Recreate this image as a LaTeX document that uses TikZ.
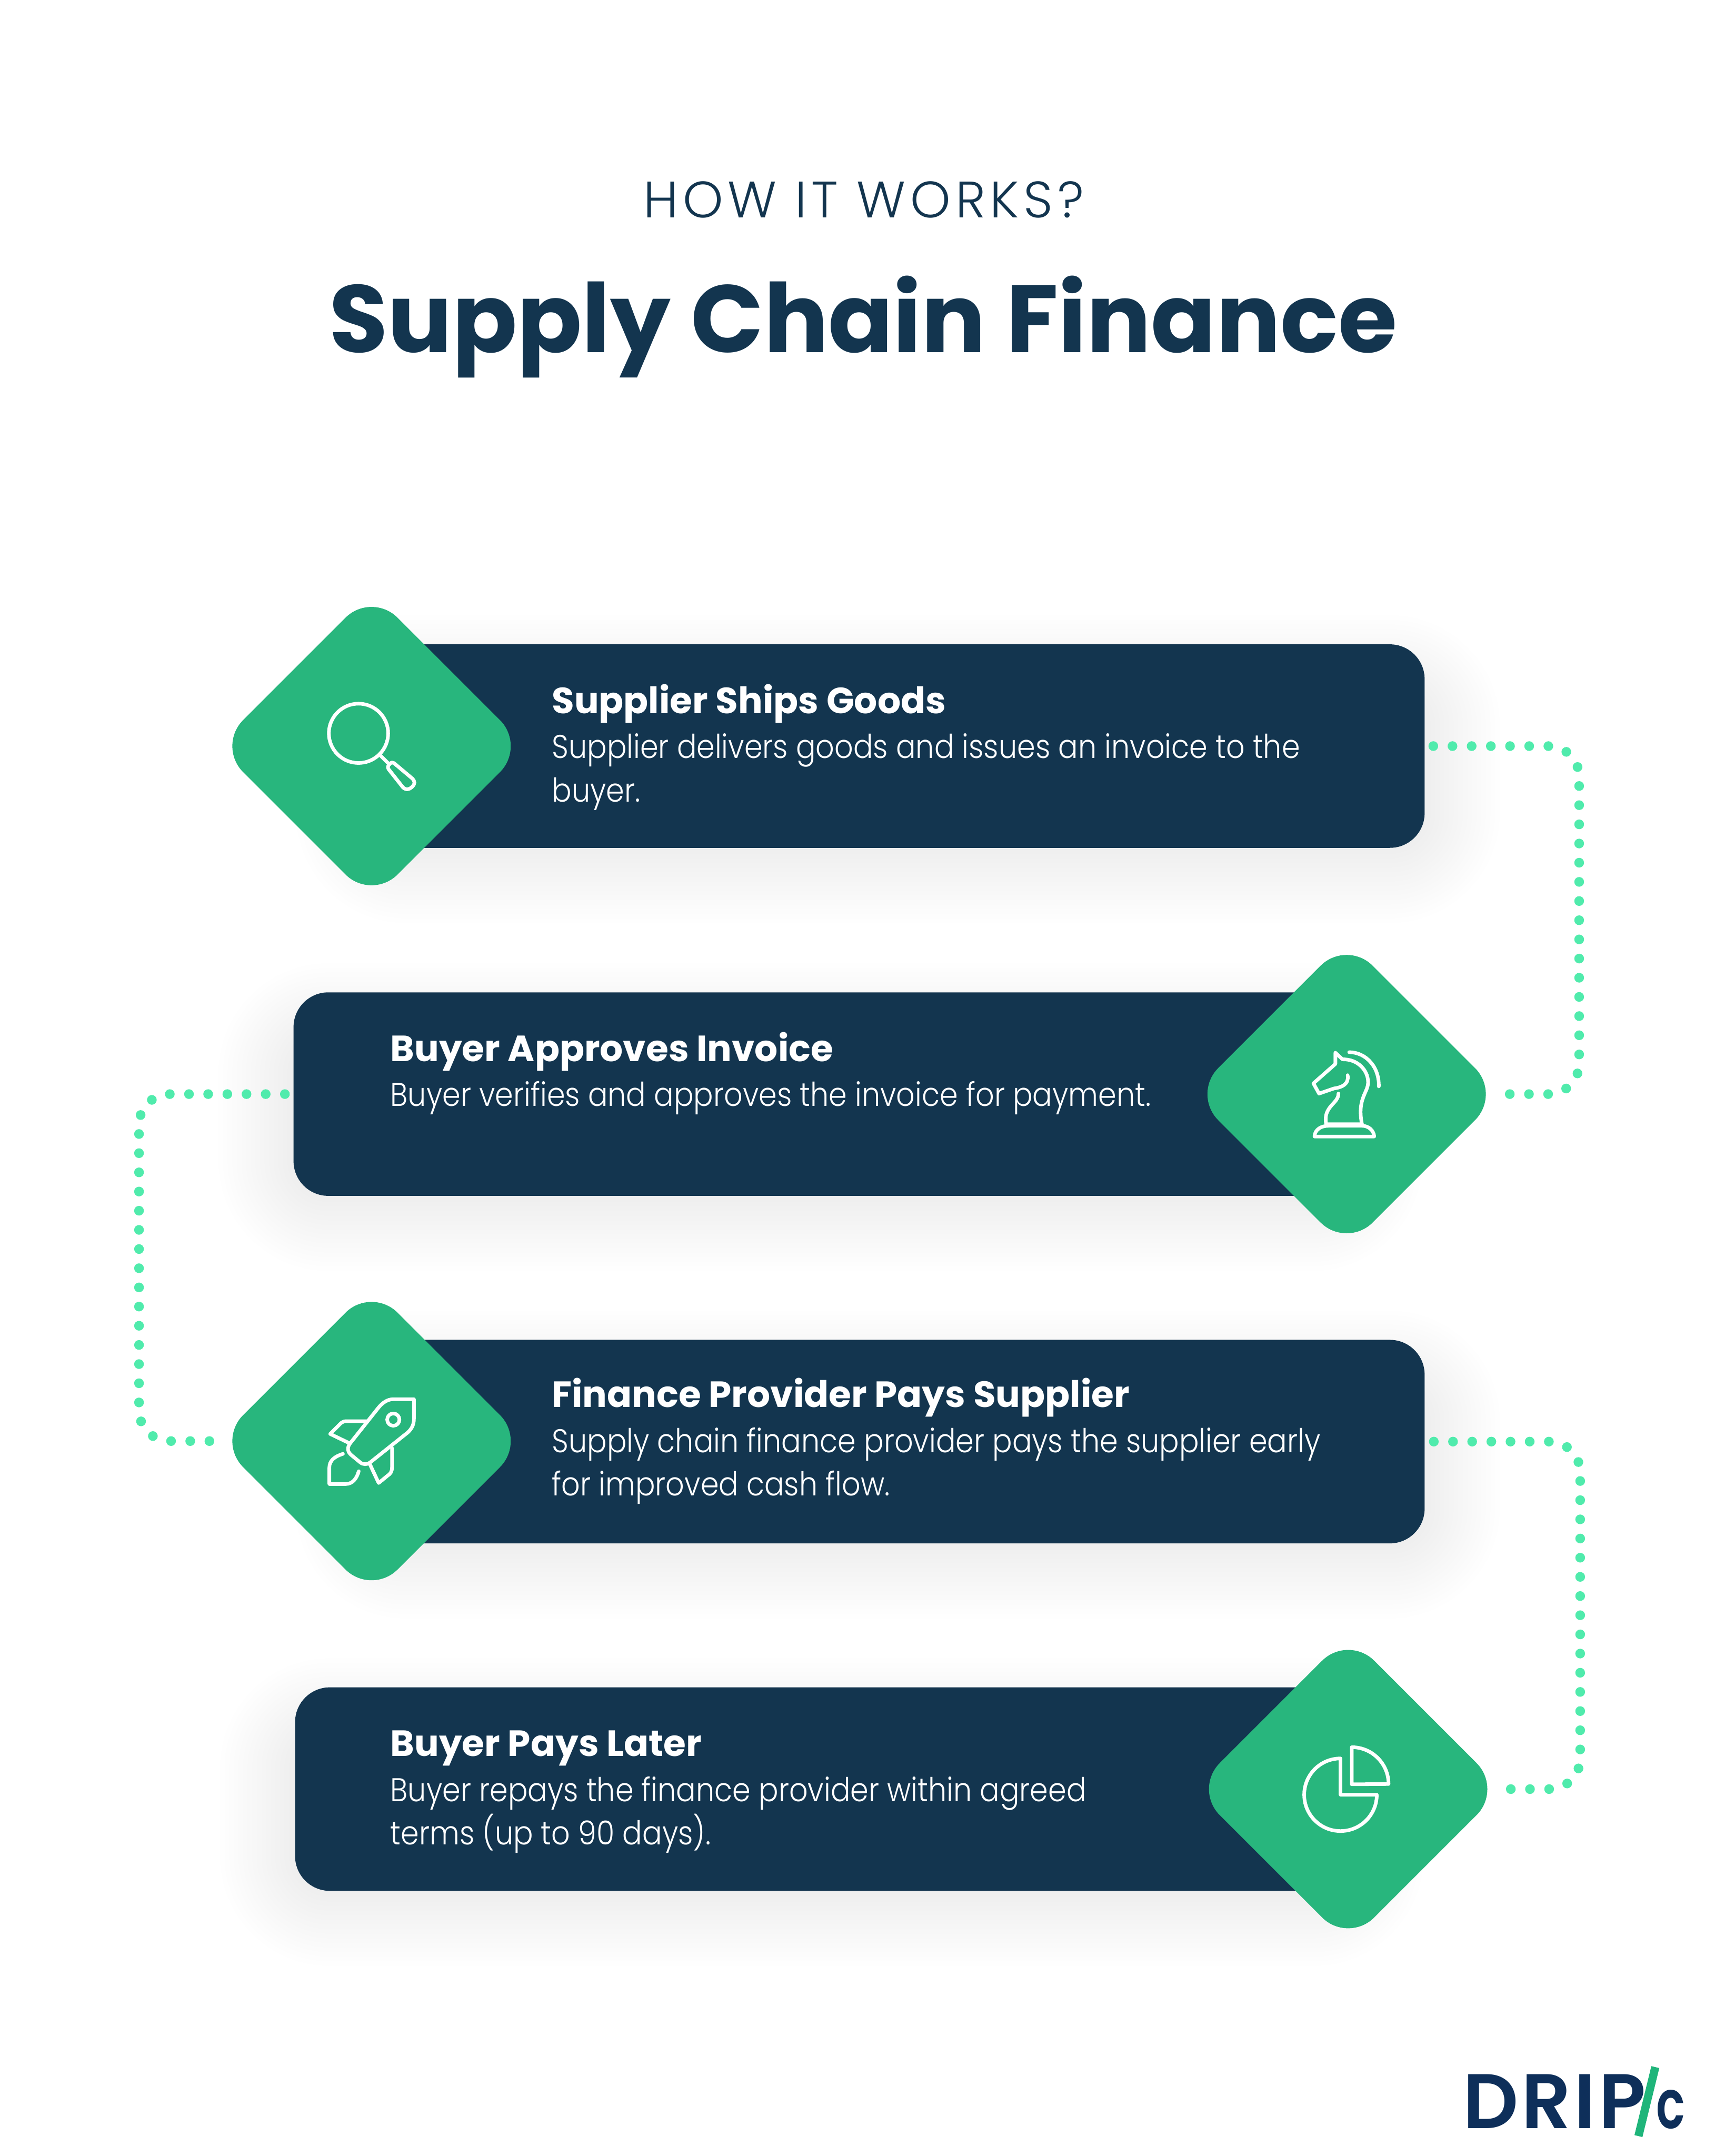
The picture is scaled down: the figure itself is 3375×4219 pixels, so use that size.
\documentclass[tikz,border=0pt]{standalone}
\usepackage{fontspec}
\setmainfont{Poppins}
\newfontfamily\bodyfont{Poppins Light}
\newfontfamily\copyfont[FakeStretch=0.89]{Poppins Light}
\newfontfamily\logofont[LetterSpace=4]{Poppins SemiBold}
\usetikzlibrary{positioning,shapes.geometric,backgrounds}
\definecolor{navy}{HTML}{13354F}
\definecolor{leaf}{HTML}{28B67D}
\definecolor{mint}{HTML}{50EBAC}
\definecolor{logonavy}{HTML}{0E2F5A}
\definecolor{logoleaf}{HTML}{1FB57A}
\newcommand{\headtext}[1]{{\fontsize{20.3}{24}\selectfont\bfseries #1}}
\tikzset{x=0.01cm,y=-0.01cm,
	card/.style={draw=none, fill=navy, rectangle, rounded corners=0.68cm, minimum width=20.6cm, minimum height=3.98cm, inner sep=0pt, outer sep=0pt},
	gem/.style={draw=none, fill=leaf, diamond, aspect=1, rounded corners=0.72cm, minimum width=6.04cm, minimum height=6.04cm, inner sep=0pt, outer sep=0pt},
	dotline/.style={draw=mint, line width=0.19cm, line cap=round, dash pattern=on 0pt off 0.375cm, rounded corners=0.6cm},
	head/.style={white, anchor=base west, inner sep=0pt, outer sep=0pt},
	copy/.style={white, anchor=base west, inner sep=0pt, outer sep=0pt, align=left, font=\copyfont\fontsize{18.3}{24.2}\selectfont},
	glyph/.style={draw=white, line width=0.07cm, line join=round, line cap=round},
	haze/.style={fill=black, opacity=0.004}}
\begin{document}
\begin{tikzpicture}
	\useasboundingbox (0,0) rectangle (3375,4219);
	\node [text=navy, anchor=base] (kicker) at (1690,426) {\bodyfont\fontsize{28.5}{30}\selectfont\addfontfeatures{LetterSpace=9}HOW IT WORKS?};
	\node [text=navy, anchor=base] (title) at (1689,690) {\fontsize{53.2}{60}\selectfont\bfseries Supply Chain Finance};

	\node [card] (supplier) at (1757,1460) {};
	\node [gem] (search) at (727,1460) {};
	\node [card] (approve) at (1605,2141) {};
	\node [gem] (knight) at (2635,2141) {};
	\node [card] (provider) at (1757,2821) {};
	\node [gem] (rocket) at (727,2820) {};
	\node [card] (later) at (1608,3501) {};
	\node [gem] (chart) at (2638,3501) {};

	\node [head] (supplierhead) at (1080,1396) {\headtext{Supplier Ships Goods}};
	\node [copy] (suppliercopy) at (1080,1569) {Supplier delivers goods and issues an invoice to the\\buyer.};
	\node [head] (approvehead) at (764,2077) {\headtext{Buyer Approves Invoice}};
	\node [copy] (approvecopy) at (764,2165) {Buyer verifies and approves the invoice for payment.};
	\node [head] (providerhead) at (1080,2754) {\headtext{Finance Provider Pays Supplier}};
	\node [copy] (providercopy) at (1080,2927) {Supply chain finance provider pays the supplier early\\for improved cash flow.};
	\node [head] (laterhead) at (764,3437) {\headtext{Buyer Pays Later}};
	\node [copy] (latercopy) at (764,3610) {Buyer repays the finance provider within agreed\\terms (up to 90 days).};

	% dotted links
	\coordinate (turnone) at (3090,2141);
	\coordinate (turntwo) at (272,2820);
	\coordinate (turnthree) at (3092,3501);
	\draw [dotline] ([shift={(17,0)}]supplier.east) -| (turnone) -- ([shift={(12,0)}]knight.east);
	\draw [dotline] ([shift={(-17,0)}]approve.west) -| (turntwo) -- ([shift={(-12,0)}]rocket.west);
	\draw [dotline] ([shift={(18,0)}]provider.east) -| (turnthree) -- ([shift={(11,0)}]chart.east);

	% icons
	\draw [glyph] (701.5,1435) circle [radius=0.58cm];
	\draw [glyph] (744,1478) -- (762,1496);
	\draw [glyph, rounded corners=0.05cm] (757,1501) -- (767,1490) -- (811,1527) -- (811,1536) -- (800,1545) -- (791,1544) -- cycle;

	\draw [glyph] (2640,2059) .. controls (2672,2059) and (2699,2087) .. (2698,2126);
	\draw [glyph] (2637,2104) .. controls (2640,2122) and (2625,2128) .. (2610,2130) -- (2581,2140) -- (2570,2120) -- (2613,2082) -- (2613,2060) -- (2627,2073) .. controls (2655,2072) and (2677,2093) .. (2677,2118) .. controls (2677,2138) and (2655,2150) .. (2665,2200);
	\draw [glyph] (2619,2140) .. controls (2619,2160) and (2588,2165) .. (2595,2200) -- (2665,2200);
	\draw [glyph] (2572,2224) .. controls (2573,2210) and (2585,2203) .. (2600,2203) -- (2665,2203) .. controls (2678,2203) and (2688,2212) .. (2689,2224) -- cycle;

	\draw [glyph] (810,2738) -- (770,2738) .. controls (757,2738) and (748,2746) .. (741,2754) -- (687,2822) .. controls (678,2832) and (680,2841) .. (687,2847) -- (704,2861) .. controls (711,2867) and (718,2866) .. (724,2862) -- (793,2807) .. controls (804,2799) and (810,2790) .. (810,2776) -- cycle;
	\draw [glyph] (769.6,2778) circle [radius=0.12cm];
	\draw [glyph] (718,2781) -- (678,2781) .. controls (670,2781) and (667,2785) .. (663,2789) -- (646,2806) -- (683.5,2824);
	\draw [glyph] (767,2833.5) -- (767,2872) .. controls (767,2880) and (764,2884) .. (758,2888) -- (741,2902) -- (723.6,2865);
	\draw [glyph] (671,2845) .. controls (655,2850) and (644.4,2858) .. (644.4,2872) -- (644.4,2904) -- (676.6,2904) .. controls (690,2904) and (698,2893) .. (702,2879);

	\draw [glyph] (2623,3512) -- (2623,3441) arc [start angle=90, end angle=360, radius=0.71cm] -- cycle;
	\draw [glyph] (2645,3491.6) -- (2645,3419) arc [start angle=90, end angle=0, radius=0.72cm] -- cycle;

	% logo
	\node [text=logonavy, anchor=base west, inner sep=0pt] (logoname) at (2862,4165) {\logofont\fontsize{43}{43}\selectfont DRIP};
	\node [text=logonavy, anchor=base west, inner sep=0pt, xscale=0.7] (logotail) at (3240,4165) {\logofont\fontsize{38}{38}\selectfont c};
	\draw [draw=logoleaf, line width=0.16cm] (3239,4045) -- (3206,4180);

	% soft shadows
	\begin{pgfonlayer}{background}
		\foreach \cardname in {supplier,approve,provider,later}
			\foreach \spread [evaluate=\spread as \lowshift using 90+\spread, evaluate=\spread as \topshift using 90-\spread, evaluate=\spread as \bend using 20+(\spread>-48)*(48+\spread)] in {-150,-141,...,150}
				\fill [haze, rounded corners=\bend*0.01cm] ([shift={(-\spread,\lowshift)}]\cardname.south west) rectangle ([shift={(\spread,\topshift)}]\cardname.north east);
		\foreach \gemname in {search,knight,rocket,chart}
			\foreach \spread [evaluate=\spread as \reach using 302+\spread] in {-100,-91,...,120}
				\fill [haze, rounded corners=0.9cm] ([shift={(-\reach,60)}]\gemname.center) -- ([shift={(0,60-\reach)}]\gemname.center) -- ([shift={(\reach,60)}]\gemname.center) -- ([shift={(0,60+\reach)}]\gemname.center) -- cycle;
	\end{pgfonlayer}
\end{tikzpicture}
\end{document}
